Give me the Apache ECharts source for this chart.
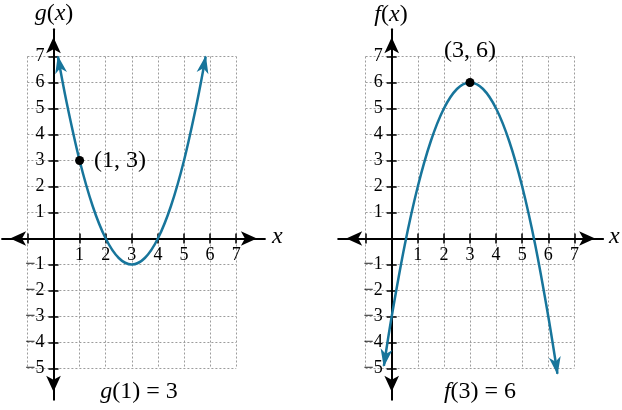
<!DOCTYPE html>
<html><head><meta charset="utf-8">
<script src="https://cdn.jsdelivr.net/npm/echarts@6/dist/echarts.min.js"></script>
<style>html,body{margin:0;padding:0;background:#fff}#c{width:622px;height:410px}</style>
</head><body><div id="c"></div>
<script>
// ---- data ----
const gX = [0.17, 0.5, 1, 1.5, 2, 2.5, 3, 3.5, 4, 4.5, 5, 5.5, 5.83];
const gY = [7, 5.25, 3, 1.25, 0, -0.75, -1, -0.75, 0, 1.25, 3, 5.25, 7];
const fX = [-0.3, 0, 0.5, 1, 1.5, 2, 2.5, 3, 3.5, 4, 4.5, 5, 5.5, 6, 6.35];
const fY = [-4.9, -3, -0.25, 2, 3.75, 5, 5.75, 6, 5.75, 5, 3.75, 2, -0.25, -3, -5.2];
const gPoint = [1, 3];
const gPointLabel = '(1, 3)';
const fPoint = [3, 6];
const fPointLabel = '(3, 6)';
const xTicks = [-1, 1, 2, 3, 4, 5, 6, 7];
const xTickLabels = [1, 2, 3, 4, 5, 6, 7];
const yTicks = [-5, -4, -3, -2, -1, 1, 2, 3, 4, 5, 6, 7];
const yTickLabels = [-5, -4, -3, -2, -1, 1, 2, 3, 4, 5, 6, 7];
const gridX = [-1, 7];
const gridY = [-5, 7];

// ---- layout / style ----
const SERIF = '"Liberation Serif", "DejaVu Serif", serif';
const CURVE = '#17759b';
const UX = 26.1, UY = 26, Y0 = 238.5;
const panels = [
  { x0: 53.5, xr: [-1.97, 8.1], yr: [-6.2, 8.05] },
  { x0: 391.7, xr: [-2.05, 8.1], yr: [-6.2, 8.05] }
];

const grids = [], xAxes = [], yAxes = [], series = [];
const fmt = v => String(v).replace('-', '\u2212');
const G = o => Object.assign({ outerBoundsMode: 'none', containLabel: false }, o);
const hid = (gi, min, max) => ({ gridIndex: gi, type: 'value', min, max, show: false,
  axisLine: { show: false, onZero: false }, axisTick: { show: false }, axisLabel: { show: false }, splitLine: { show: false } });
const tickStyle = { color: '#000', width: 1.5 };
const lineStyle = { color: '#000', width: 2 };

panels.forEach((p, k) => {
  const split = { show: true, lineStyle: { type: [2, 2], color: '#9c9c9c', width: 1 } };
  const noAx = { axisLine: { show: false, onZero: false }, axisTick: { show: false }, axisLabel: { show: false } };
  // G0: inner dotted grid + series
  const g0 = grids.length;
  grids.push(G({ left: p.x0 + gridX[0] * UX, width: (gridX[1] - gridX[0]) * UX,
                 top: Y0 - gridY[1] * UY, height: (gridY[1] - gridY[0]) * UY }));
  const xs = xAxes.length, ys = yAxes.length;
  xAxes.push(Object.assign({ gridIndex: g0, type: 'value', min: gridX[0], max: gridX[1], interval: 1, splitLine: split }, noAx));
  yAxes.push(Object.assign({ gridIndex: g0, type: 'value', min: gridY[0], max: gridY[1], interval: 1, splitLine: split }, noAx));

  const xl = p.x0 + p.xr[0] * UX, xw = (p.xr[1] - p.xr[0]) * UX;
  const yt = Y0 - p.yr[1] * UY, yh = (p.yr[1] - p.yr[0]) * UY;
  // G1: main x axis (bottom edge at y=0)
  let gi = grids.length;
  grids.push(G({ left: xl, width: xw, top: Y0 - 40, height: 40 }));
  xAxes.push({ gridIndex: gi, type: 'value', min: p.xr[0], max: p.xr[1], position: 'bottom',
    axisLine: { onZero: false, lineStyle, symbol: ['arrow', 'arrow'], symbolSize: [11, 16], symbolOffset: [8, -8] },
    axisTick: { show: true, customValues: xTicks, length: 5, lineStyle: tickStyle },
    axisLabel: { show: true, customValues: xTickLabels, margin: 8, fontFamily: SERIF, fontSize: 18, color: '#000', formatter: fmt },
    splitLine: { show: false } });
  yAxes.push(hid(gi, 0, 1));
  // G2: upward ticks of x axis
  gi = grids.length;
  grids.push(G({ left: xl, width: xw, top: Y0, height: 40 }));
  xAxes.push({ gridIndex: gi, type: 'value', min: p.xr[0], max: p.xr[1], position: 'top',
    axisLine: { show: false, onZero: false },
    axisTick: { show: true, customValues: xTicks, length: 5, lineStyle: tickStyle },
    axisLabel: { show: false }, splitLine: { show: false } });
  yAxes.push(hid(gi, 0, 1));
  // G3: main y axis (left edge at x=0)
  gi = grids.length;
  grids.push(G({ left: p.x0, width: 40, top: yt, height: yh }));
  yAxes.push({ gridIndex: gi, type: 'value', min: p.yr[0], max: p.yr[1], position: 'left',
    axisLine: { onZero: false, lineStyle, symbol: ['arrow', 'arrow'], symbolSize: [11, 16], symbolOffset: [8, -8] },
    axisTick: { show: true, customValues: yTicks, length: 5, lineStyle: tickStyle },
    axisLabel: { show: true, customValues: yTickLabels, margin: 9, fontFamily: SERIF, fontSize: 18, color: '#000', formatter: fmt },
    splitLine: { show: false } });
  xAxes.push(hid(gi, 0, 1));
  // G4: rightward ticks of y axis
  gi = grids.length;
  grids.push(G({ left: p.x0 - 40, width: 40, top: yt, height: yh }));
  yAxes.push({ gridIndex: gi, type: 'value', min: p.yr[0], max: p.yr[1], position: 'right',
    axisLine: { show: false, onZero: false },
    axisTick: { show: true, customValues: yTicks, length: 5, lineStyle: tickStyle },
    axisLabel: { show: false }, splitLine: { show: false } });
  xAxes.push(hid(gi, 0, 1));

  const X = k === 0 ? gX : fX, Y = k === 0 ? gY : fY;
  const pt = k === 0 ? gPoint : fPoint, lbl = k === 0 ? gPointLabel : fPointLabel;
  const n = X.length;
  series.push({ type: 'line', xAxisIndex: xs, yAxisIndex: ys, smooth: 0.35, symbol: 'none', clip: false,
    data: X.map((x, i) => [x, Y[i]]), lineStyle: { color: CURVE, width: 2.5 }, z: 5, silent: true });
  series.push({ type: 'custom', xAxisIndex: xs, yAxisIndex: ys, z: 6, silent: true, clip: false,
    data: [[X[0], Y[0], X[1], Y[1]], [X[n - 1], Y[n - 1], X[n - 2], Y[n - 2]]],
    renderItem: (params, api) => {
      const a = api.coord([api.value(0), api.value(1)]);
      const b = api.coord([api.value(2), api.value(3)]);
      let dx = a[0] - b[0], dy = a[1] - b[1];
      const L = Math.hypot(dx, dy); dx /= L; dy /= L;
      const nx = -dy, ny = dx, len = 17, w = 6, notch = 5;
      const bx = a[0] - dx * len, by = a[1] - dy * len;
      return { type: 'polygon', shape: { points: [
        [a[0] + dx * 1, a[1] + dy * 1],
        [bx + nx * w, by + ny * w],
        [a[0] - dx * (len - notch), a[1] - dy * (len - notch)],
        [bx - nx * w, by - ny * w]] }, style: { fill: CURVE } };
    } });
  series.push({ type: 'scatter', xAxisIndex: xs, yAxisIndex: ys, z: 7, silent: true, clip: false,
    data: [pt], symbolSize: 9, itemStyle: { color: '#000', opacity: 1 },
    label: { show: true, formatter: lbl, position: k === 0 ? 'right' : 'top', distance: k === 0 ? 10 : 15,
      fontFamily: SERIF, fontSize: 24, color: '#000', opacity: 1, textBorderWidth: 0 } });
});

const rich = { i: { fontFamily: SERIF, fontStyle: 'italic', fontSize: 24, color: '#000' } };
const txt = (s, x, y, align) => ({ type: 'text', x, y, style: { text: s, fontFamily: SERIF, fontSize: 24, fill: '#000',
  align: align || 'center', verticalAlign: 'middle', rich } });

const chart = echarts.init(document.getElementById('c'), null, { renderer: 'canvas' });
chart.setOption({
  animation: false,
  backgroundColor: '#fff',
  grid: grids, xAxis: xAxes, yAxis: yAxes, series,
  graphic: [
    txt('{i|g}({i|x})', 54, 14),
    txt('{i|f}({i|x})', 391, 15),
    txt('{i|x}', 272, 237, 'left'),
    txt('{i|x}', 609, 237, 'left'),
    txt('{i|g}(1) = 3', 139, 392),
    txt('{i|f}(3) = 6', 480, 392)
  ]
});
</script></body></html>
